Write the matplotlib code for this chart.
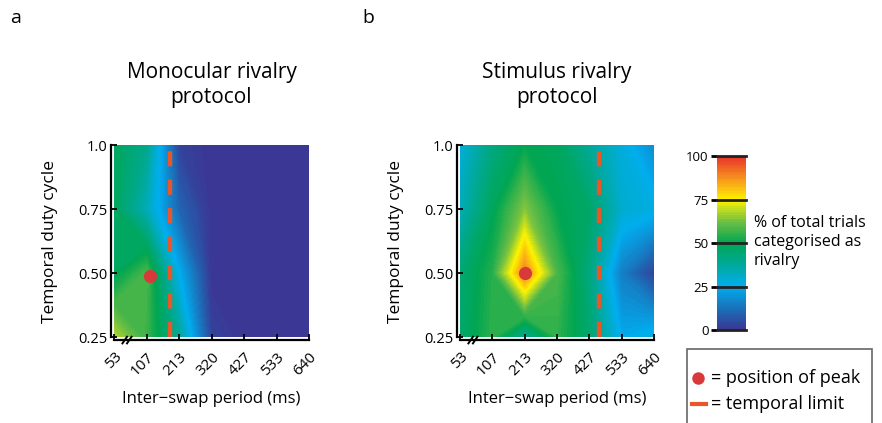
import matplotlib; matplotlib.use("Agg")
import matplotlib.pyplot as plt
import numpy as np
from matplotlib.colors import LinearSegmentedColormap
from matplotlib.patches import Rectangle
from matplotlib.lines import Line2D

plt.rcParams.update({"font.family": ["Open Sans", "DejaVu Sans"], "font.size": 11})

# data
periods = ["53", "107", "213", "320", "427", "533", "640"]
duty = [0.25, 0.50, 0.75, 1.0]
duty_labels = ["0.25", "0.50", "0.75", "1.0"]
# % of trials categorised as rivalry, rows = duty cycle (0.25 -> 1.0), cols = period
mono = np.array([
    [68, 56, 38, 3, 0, 0, 0],
    [48, 58, 25, 0, 0, 0, 0],
    [48, 33, 10, 0, 0, 0, 0],
    [48, 40, 3, 0, 0, 0, 0],
])
stim = np.array([
    [45, 55, 38, 55, 45, 24, 28],
    [44, 54, 90, 58, 42, 15, 3],
    [33, 48, 64, 50, 46, 30, 27],
    [28, 42, 50, 48, 38, 28, 18],
])
# peak position and temporal limit, in period-index units
mono_peak = (1.1, 0.49)
stim_peak = (2.0, 0.50)
mono_limit = 1.72
stim_limit = 4.3

cmap = LinearSegmentedColormap.from_list("riv", [
    (0.00, "#3b3594"), (0.12, "#1b6fb8"), (0.25, "#00aeef"),
    (0.37, "#00a99d"), (0.50, "#00a651"), (0.62, "#6cbe45"),
    (0.75, "#fff200"), (0.87, "#f7941d"), (1.00, "#e8312a")])

RED = "#d8393a"
DASH = "#e8572a"

fig = plt.figure(figsize=(8.82, 4.23), dpi=100)
W, H = 882, 423

def px(x0, y0, x1, y1):
    return [x0 / W, 1 - y1 / H, (x1 - x0) / W, (y1 - y0) / H]

levels = np.linspace(0, 100, 101)

def panel(rect, Z, peak, limit, title, letter, lx):
    ax = fig.add_axes(rect)
    for s in ["top", "right"]:
        ax.spines[s].set_visible(False)
    for s in ["left", "bottom"]:
        ax.spines[s].set_linewidth(1.6)
        ax.spines[s].set_position(("outward", 2))
    X = np.arange(len(periods))
    cf = ax.contourf(X, duty, Z, levels=levels, cmap=cmap, vmin=0, vmax=100)
    ax.contourf(X, duty, Z, levels=levels, cmap=cmap, vmin=0, vmax=100)
    ax.plot([limit, limit], [duty[0], duty[-1]], color=DASH, lw=3.2,
            ls=(0, (3.4, 3.0)), solid_capstyle="butt")
    ax.plot(*peak, "o", color=RED, ms=9.5, mec="none")
    ax.set_xlim(0, len(periods) - 1)
    ax.set_ylim(duty[0], duty[-1])
    ax.set_xticks(X)
    ax.set_xticklabels(periods, rotation=45, ha="right", va="top",
                       rotation_mode="anchor", fontsize=11)
    ax.set_yticks(duty)
    ax.set_yticklabels(duty_labels, fontsize=10.5)
    ax.tick_params(direction="in", length=4, width=1.3, pad=3)
    ax.tick_params(axis="x", pad=7)
    ax.set_xlabel("Inter\u2212swap period (ms)", fontsize=12, labelpad=9)
    ax.set_ylabel("Temporal duty cycle", fontsize=12.5, labelpad=14)
    ax.set_title(title, fontsize=15, pad=30, linespacing=1.25)
    # axis break marks
    for dx in (-0.07, 0.07):
        ax.plot([0.33 + dx, 0.47 + dx], [0.225, 0.251], color="black",
                lw=1.4, clip_on=False)
    fig.text(lx / W, 1 - 18 / H, letter, fontsize=14, ha="left", va="center")
    return cf

cf = panel(px(114, 145, 309, 337), mono, mono_peak, mono_limit,
           "Monocular rivalry\nprotocol", "a", 10)
panel(px(460, 145, 654, 337), stim, stim_peak, stim_limit,
      "Stimulus rivalry\nprotocol", "b", 362)

# colorbar
cax = fig.add_axes(px(717, 156, 746, 330))
cb = fig.colorbar(cf, cax=cax, ticks=[0, 25, 50, 75, 100])
cb.outline.set_visible(False)
cax.yaxis.set_ticks_position("left")
cax.tick_params(length=4, width=2, pad=2, labelsize=9.5)
for t in [0, 25, 50, 75, 100]:
    cax.axhline(t, color="#222222", lw=2, clip_on=False)
fig.text(754 / W, 1 - 242 / H, "% of total trials\ncategorised as\nrivalry",
         fontsize=11.5, ha="left", va="center", linespacing=1.25)

# legend box
fig.patches.append(Rectangle((687 / W, -0.05), 185 / W, 0.05 + 1 - 349 / H,
                             transform=fig.transFigure, fill=False,
                             ec="#666666", lw=1.2, clip_on=False))
fig.lines.append(Line2D([698 / W], [1 - 378 / H], marker="o", ms=9,
                        color=RED, mec="none", transform=fig.transFigure))
fig.lines.append(Line2D([692 / W, 706 / W], [1 - 404 / H] * 2, lw=3,
                        color=DASH, transform=fig.transFigure))
fig.text(711 / W, 1 - 378 / H, "= position of peak", fontsize=13,
         ha="left", va="center")
fig.text(711 / W, 1 - 404 / H, "= temporal limit", fontsize=13,
         ha="left", va="center")

fig.savefig("out.png", dpi=100)
